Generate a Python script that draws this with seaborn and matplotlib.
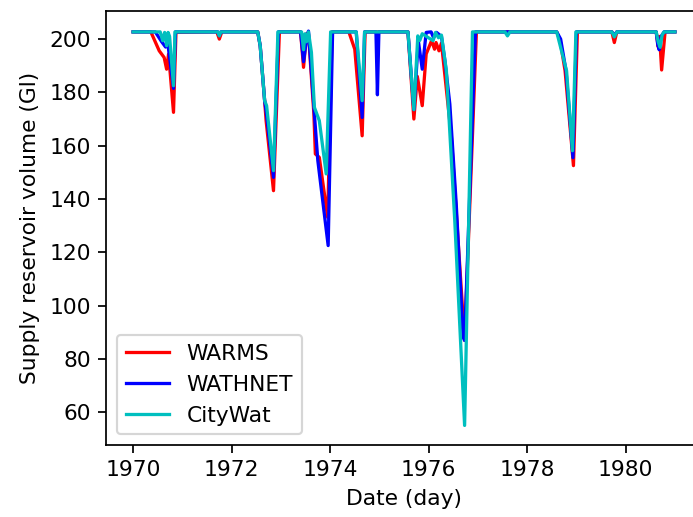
import pandas as pd
import matplotlib
matplotlib.use("Agg")
import matplotlib.pyplot as plt
import seaborn as sns

# values (decimal year, volume in Gl)
warms_t = [1970.00, 1970.36, 1970.53, 1970.63, 1970.68, 1970.72, 1970.82, 1970.87,
           1971.70, 1971.75, 1971.80,
           1972.53, 1972.58, 1972.67, 1972.70, 1972.85, 1972.97,
           1973.40, 1973.46, 1973.52, 1973.56, 1973.67, 1973.70, 1973.78, 1973.95, 1974.04,
           1974.38, 1974.50, 1974.65, 1974.71,
           1975.58, 1975.70, 1975.77, 1975.87, 1975.95, 1976.06, 1976.12, 1976.15, 1976.21,
           1976.26, 1976.46, 1976.73, 1976.97,
           1978.60, 1978.67, 1978.77, 1978.94, 1979.02,
           1979.72, 1979.77, 1979.82,
           1980.62, 1980.66, 1980.69, 1980.73, 1980.80, 1981.00]
warms_v = [202.7, 202.7, 195.6, 193.1, 188.7, 194.4, 172.5, 202.5,
           202.7, 200.0, 202.7,
           202.7, 197.5, 176.9, 169.4, 143.1, 202.7,
           202.7, 189.4, 202.0, 202.0, 171.9, 156.9, 155.6, 133.1, 202.7,
           202.7, 196.2, 163.7, 202.7,
           202.7, 170.0, 186.0, 175.0, 194.4, 199.4, 196.2, 198.7, 195.6,
           198.5, 163.7, 86.9, 202.7,
           202.7, 199.4, 188.1, 152.5, 202.7,
           202.7, 198.7, 202.7,
           202.7, 197.1, 201.0, 188.4, 202.7, 202.7]

wathnet_t = [1970.00, 1970.45, 1970.58, 1970.66, 1970.70, 1970.82, 1970.86,
             1971.72, 1971.75, 1971.78,
             1972.53, 1972.58, 1972.67, 1972.70, 1972.85, 1972.95,
             1973.40, 1973.46, 1973.52, 1973.56, 1973.69, 1973.75, 1973.96, 1974.05,
             1974.53, 1974.65, 1974.70, 1974.93, 1974.96, 1974.99,
             1975.58, 1975.70, 1975.79, 1975.87, 1975.95, 1976.05, 1976.10, 1976.16,
             1976.26, 1976.33, 1976.43, 1976.56, 1976.70, 1976.73, 1976.95,
             1978.60, 1978.68, 1978.79, 1978.93, 1979.00,
             1979.72, 1979.77, 1979.82,
             1980.62, 1980.65, 1980.68, 1980.72, 1980.78, 1981.00]
wathnet_v = [202.7, 202.7, 199.0, 197.0, 199.0, 181.5, 202.7,
             202.7, 201.3, 202.7,
             202.7, 197.5, 176.9, 173.0, 148.1, 202.7,
             202.7, 191.5, 200.0, 203.0, 169.4, 154.4, 122.5, 202.7,
             202.7, 170.6, 202.7, 202.7, 179.1, 202.7,
             202.7, 173.5, 199.4, 188.7, 202.5, 202.7, 200.5, 202.5,
             201.0, 191.9, 175.6, 138.1, 88.1, 86.9, 202.7,
             202.7, 200.0, 188.0, 155.5, 202.7,
             202.7, 201.5, 202.7,
             202.7, 198.1, 196.0, 201.0, 202.7, 202.7]

citywat_t = [1970.00, 1970.55, 1970.60, 1970.64, 1970.68, 1970.71, 1970.74, 1970.82, 1970.85,
             1971.72, 1971.75, 1971.78,
             1972.53, 1972.58, 1972.67, 1972.71, 1972.85, 1972.94,
             1973.42, 1973.46, 1973.49, 1973.52, 1973.56, 1973.62, 1973.68, 1973.78, 1973.92, 1974.01,
             1974.53, 1974.65, 1974.70,
             1975.58, 1975.70, 1975.78, 1975.82, 1975.87, 1976.09, 1976.14, 1976.20,
             1976.26, 1976.36, 1976.53, 1976.73, 1976.89,
             1977.55, 1977.60, 1977.65,
             1978.60, 1978.80, 1978.92, 1978.99,
             1979.72, 1979.77, 1979.82,
             1980.62, 1980.66, 1980.70, 1980.74, 1980.78, 1981.00]
citywat_v = [202.7, 202.7, 199.4, 202.5, 197.5, 202.5, 201.0, 182.5, 202.7,
             202.7, 201.2, 202.7,
             202.7, 197.5, 176.9, 175.0, 150.6, 202.7,
             202.7, 196.0, 202.0, 199.0, 202.7, 195.0, 174.4, 169.4, 149.4, 202.7,
             202.7, 176.9, 202.7,
             202.7, 173.5, 201.2, 199.5, 202.0, 199.4, 202.5, 200.5,
             201.5, 188.1, 131.9, 55.0, 202.7,
             202.7, 201.2, 202.7,
             202.7, 188.1, 158.1, 202.7,
             202.7, 200.8, 202.7,
             202.7, 199.0, 196.9, 201.5, 202.7, 202.7]

year_ticks = [1970, 1972, 1974, 1976, 1978, 1980]
volume_ticks = [60, 80, 100, 120, 140, 160, 180, 200]

DPI = 157
fig = plt.figure(figsize=(693 / DPI, 517 / DPI), dpi=DPI)
ax = fig.add_axes([0.153, 0.139, 0.860, 0.839])

series = [("WARMS", warms_t, warms_v, "r"),
          ("WATHNET", wathnet_t, wathnet_v, "b"),
          ("CityWat", citywat_t, citywat_v, "c")]
for name, t, v, col in series:
    df = pd.DataFrame({"date": t, "volume": v})
    sns.lineplot(data=df, x="date", y="volume", color=col, label=name,
                 estimator=None, linewidth=1.5, ax=ax)

ax.set_xticks(year_ticks)
ax.set_xticklabels([str(y) for y in year_ticks])
ax.set_yticks(volume_ticks)
ax.set_xlabel("Date (day)")
ax.set_ylabel("Supply reservoir volume (Gl)")
ax.legend(loc="lower left")

fig.savefig("out.png", dpi=DPI)
